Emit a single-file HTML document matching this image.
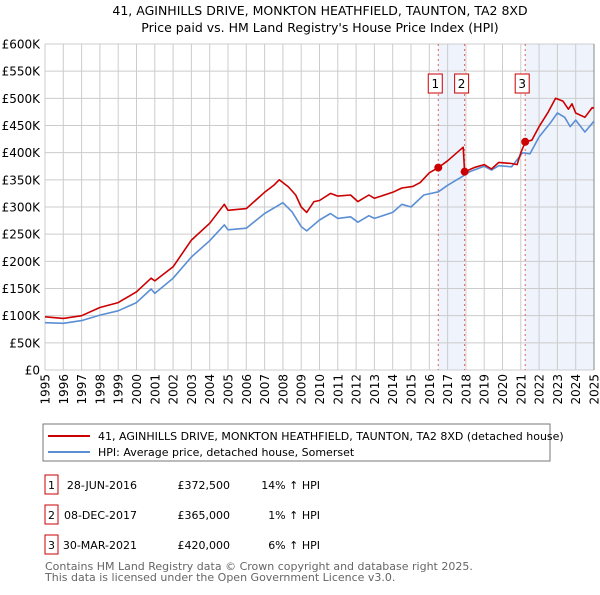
<!DOCTYPE html>
<html><head><meta charset="utf-8"><style>
body{margin:0;background:#fff;font-family:"Liberation Sans","DejaVu Sans",sans-serif;}
svg text{font-family:"DejaVu Sans","Liberation Sans",sans-serif;}
</style></head><body>
<svg id="c" width="600" height="590" xmlns="http://www.w3.org/2000/svg">
<text x="320" y="15" text-anchor="middle" font-size="12.5" fill="#000">41, AGINHILLS DRIVE, MONKTON HEATHFIELD, TAUNTON, TA2 8XD</text>
<text x="320" y="32" text-anchor="middle" font-size="12.5" fill="#000">Price paid vs. HM Land Registry's House Price Index (HPI)</text>
<g id="plot"></g>
<rect x="43" y="424" width="507" height="37" fill="#fff" stroke="#777"/>
<line x1="48" y1="436" x2="90" y2="436" stroke="#cc0000" stroke-width="2"/>
<text x="98" y="440" font-size="11">41, AGINHILLS DRIVE, MONKTON HEATHFIELD, TAUNTON, TA2 8XD (detached house)</text>
<line x1="48" y1="452" x2="90" y2="452" stroke="#5b8fd4" stroke-width="2"/>
<text x="98" y="456" font-size="11">HPI: Average price, detached house, Somerset</text>
<g font-size="11">
<rect x="45" y="475" width="13" height="19" fill="#fff" stroke="#cc0000"/><text x="51.5" y="489" text-anchor="middle">1</text>
<text x="137" y="489" text-anchor="end">28-JUN-2016</text><text x="230" y="489" text-anchor="end">£372,500</text><text x="320" y="489" text-anchor="end">14% ↑ HPI</text>
<rect x="45" y="505" width="13" height="19" fill="#fff" stroke="#cc0000"/><text x="51.5" y="519" text-anchor="middle">2</text>
<text x="137" y="519" text-anchor="end">08-DEC-2017</text><text x="230" y="519" text-anchor="end">£365,000</text><text x="320" y="519" text-anchor="end">1% ↑ HPI</text>
<rect x="45" y="535" width="13" height="19" fill="#fff" stroke="#cc0000"/><text x="51.5" y="549" text-anchor="middle">3</text>
<text x="137" y="549" text-anchor="end">30-MAR-2021</text><text x="230" y="549" text-anchor="end">£420,000</text><text x="320" y="549" text-anchor="end">6% ↑ HPI</text>
</g>
<text x="45" y="570" font-size="11" fill="#666">Contains HM Land Registry data © Crown copyright and database right 2025.</text>
<text x="45" y="581" font-size="11" fill="#666">This data is licensed under the Open Government Licence v3.0.</text>
</svg>
<script>
const hpiYears=[1995,1996,1997,1998,1999,2000,2000.8,2001,2002,2003,2004,2004.8,2005,2006,2007,2008,2008.5,2009,2009.3,2010,2010.6,2011,2011.7,2012.1,2012.7,2013,2014,2014.5,2015,2015.7,2016.5,2017,2017.8,2018.2,2019,2019.4,2019.8,2020.5,2021.1,2021.5,2022,2022.6,2023,2023.4,2023.7,2024,2024.5,2025];
const hpiValues=[87,86,91,101,109,124,149,141,169,208,238,267,258,261,288,308,291,264,256,276,288,279,282,272,284,279,290,305,300,322,328,340,356,365,375,368,376,374,400,398,429,454,473,465,448,460,438,458];
const priceYears=[1995,1996,1997,1998,1999,2000,2000.8,2001,2002,2003,2004,2004.8,2005,2006,2007,2007.5,2007.8,2008.3,2008.7,2009,2009.3,2009.7,2010,2010.6,2011,2011.7,2012.1,2012.7,2013,2014,2014.5,2015.1,2015.5,2016,2016.49,2017,2017.85,2017.93,2018.5,2019,2019.4,2019.8,2020.5,2020.8,2021.0,2021.25,2021.6,2022,2022.5,2022.9,2023.3,2023.6,2023.8,2024,2024.5,2024.9,2025];
const priceValues=[98,95,100,115,124,144,169,164,190,239,270,305,294,297,327,340,350,337,322,300,290,310,312,325,320,322,310,322,316,327,335,338,345,363,372.5,385,410,365,373,378,370,382,380,378,400,420,423,448,475,500,495,480,490,473,465,483,482];
const saleYears=[2016.49,2017.93,2021.24];
const saleValues=[372.5,365,420];
const saleLabels=["1","2","3"];
const yTicks=[0,50,100,150,200,250,300,350,400,450,500,550,600];
const yTickLabels=["£0","£50K","£100K","£150K","£200K","£250K","£300K","£350K","£400K","£450K","£500K","£550K","£600K"];
const xTicks=[1995,1996,1997,1998,1999,2000,2001,2002,2003,2004,2005,2006,2007,2008,2009,2010,2011,2012,2013,2014,2015,2016,2017,2018,2019,2020,2021,2022,2023,2024,2025];

const X0=45,X1=594,Y0=370,Y1=44;
const xs=y=>X0+(y-1995)/30*(X1-X0);
const ys=v=>Y0-v/600*(Y0-Y1);
const NS="http://www.w3.org/2000/svg";
const g=document.getElementById('plot');
function mk(t,a){const e=document.createElementNS(NS,t);for(const k in a)e.setAttribute(k,a[k]);g.appendChild(e);return e;}
let s1=mk('rect',{x:xs(saleYears[0]),y:Y1,width:xs(saleYears[1])-xs(saleYears[0]),height:Y0-Y1,fill:'#eef3fc'});


let s2=mk('rect',{x:xs(saleYears[2]),y:Y1,width:X1-xs(saleYears[2]),height:Y0-Y1,fill:'#eef3fc'});


yTicks.forEach((v,i)=>{
 let l=mk('line',{x1:X0,x2:X1,y1:ys(v),y2:ys(v),stroke:'#cccccc','stroke-width':1});
 
 
 let t=mk('text',{x:40,y:ys(v)+4.5,'text-anchor':'end','font-size':12});
 t.textContent=yTickLabels[i];
 
 
});
xTicks.forEach(yr=>{
 let l=mk('line',{x1:xs(yr),x2:xs(yr),y1:Y1,y2:Y0,stroke:'#cccccc','stroke-width':1});
 
 
 let t=mk('text',{x:0,y:0,'text-anchor':'end','font-size':12,transform:`translate(${xs(yr)+4.5},374) rotate(-90)`});
 t.textContent=yr;
 
 
});
let edge=mk('line',{x1:X1,x2:X1,y1:Y1,y2:Y0,stroke:'#888','stroke-width':1});


saleYears.forEach((yr,i)=>{
 let l=mk('line',{x1:xs(yr),x2:xs(yr),y1:Y1,y2:Y0,stroke:'#e06060','stroke-width':1,'stroke-dasharray':'2,3'});
 
 
 let bx=xs(yr)-10;
 let r=mk('rect',{x:bx,y:74,width:14,height:19,fill:'#fff',stroke:'#cc0000'});
 
 
 let t=mk('text',{x:bx+7,y:88,'text-anchor':'middle','font-size':12});
 t.textContent=saleLabels[i];
 
 
});
function path(xa,va,col,name){
 let d=xa.map((yr,i)=>(i?'L':'M')+xs(yr).toFixed(1)+','+ys(va[i]).toFixed(1)).join('');
 let p=mk('path',{d:d,fill:'none',stroke:col,'stroke-width':1.6,'stroke-linejoin':'round'});
 
 
}
path(hpiYears,hpiValues,'#5b8fd4','hpi-line');
path(priceYears,priceValues,'#cc0000','price-line');
saleYears.forEach((yr,i)=>{
 let c=mk('circle',{cx:xs(yr),cy:ys(saleValues[i]),r:4,fill:'#cc0000'});
 
 
});
</script>
</body></html>
